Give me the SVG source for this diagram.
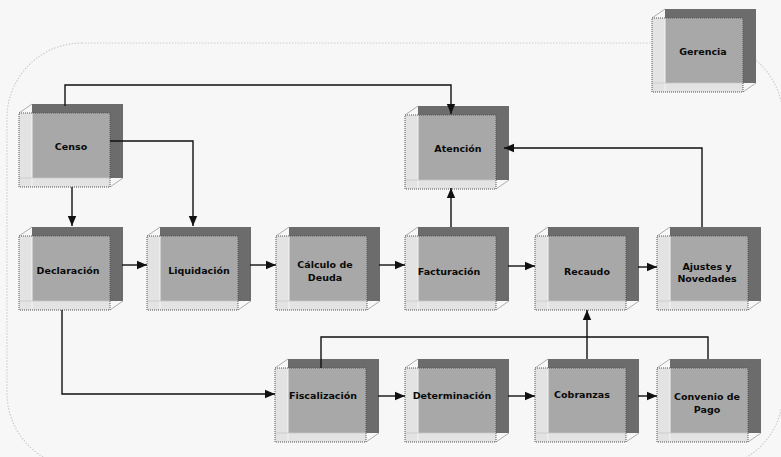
<svg xmlns="http://www.w3.org/2000/svg" xmlns:xlink="http://www.w3.org/1999/xlink" width="781" height="457" viewBox="0 0 781 457">
<style>
.lbl{font-family:"DejaVu Sans",Verdana,sans-serif;font-weight:bold;font-size:9.5px;fill:#0a0a0a;text-anchor:middle}
.edge{fill:none;stroke:#111;stroke-width:1.4}
</style>
<defs>
<marker id="arr" markerUnits="userSpaceOnUse" markerWidth="10" markerHeight="10" viewBox="0 0 10 10" refX="10" refY="5" orient="auto">
<path d="M0,0.8 L10,5 L0,9.2 Z" fill="#111"/>
</marker>
<g id="box">
<rect x="13" y="-9" width="91" height="74" fill="#6c6c6c"/>
<rect x="0" y="0" width="91" height="74" fill="#e3e3e3"/>
<rect x="13" y="0" width="78" height="65" fill="#a8a8a8"/>
<line x1="13" y1="0" x2="13" y2="74" stroke="#f4f4f4" stroke-width="1"/>
<line x1="0" y1="65" x2="91" y2="65" stroke="#c8c8c8" stroke-width="0.8"/>
<line x1="0" y1="0" x2="13" y2="-9" stroke="#999" stroke-width="0.8"/>
<line x1="91" y1="74" x2="104" y2="65" stroke="#999" stroke-width="0.8"/>
<rect x="0" y="0" width="91" height="74" fill="none" stroke="#555" stroke-width="1" stroke-dasharray="1,1"/>
</g>
</defs>
<rect width="781" height="457" fill="#f7f7f7"/>
<rect x="7" y="43" width="776" height="425" rx="75" ry="75" fill="none" stroke="#cdcdcd" stroke-width="1.2" stroke-dasharray="1.5,1.5"/>

<g id="gerencia"><use xlink:href="#box" x="652" y="18"/><text class="lbl" x="703" y="55">Gerencia</text></g>
<g id="censo"><use xlink:href="#box" x="19" y="113"/><text class="lbl" x="71" y="150">Censo</text></g>
<g id="atencion"><use xlink:href="#box" x="405" y="115"/><text class="lbl" x="458" y="152">Atención</text></g>
<g id="declaracion"><use xlink:href="#box" x="19" y="236"/><text class="lbl" x="68" y="274">Declaración</text></g>
<g id="liquidacion"><use xlink:href="#box" x="147" y="236"/><text class="lbl" x="199" y="274">Liquidación</text></g>
<g id="calculo"><use xlink:href="#box" x="276" y="236"/><text class="lbl" x="325" y="268">Cálculo de</text><text class="lbl" x="325" y="281">Deuda</text></g>
<g id="facturacion"><use xlink:href="#box" x="405" y="236"/><text class="lbl" x="449" y="275">Facturación</text></g>
<g id="recaudo"><use xlink:href="#box" x="535" y="236"/><text class="lbl" x="587" y="275">Recaudo</text></g>
<g id="ajustes"><use xlink:href="#box" x="657" y="236"/><text class="lbl" x="707" y="270">Ajustes y</text><text class="lbl" x="707" y="282">Novedades</text></g>
<g id="fiscalizacion"><use xlink:href="#box" x="275" y="368"/><text class="lbl" x="323" y="399">Fiscalización</text></g>
<g id="determinacion"><use xlink:href="#box" x="405" y="368"/><text class="lbl" x="452" y="399">Determinación</text></g>
<g id="cobranzas"><use xlink:href="#box" x="535" y="368"/><text class="lbl" x="582" y="398">Cobranzas</text></g>
<g id="convenio"><use xlink:href="#box" x="657" y="368"/><text class="lbl" x="707" y="400">Convenio de</text><text class="lbl" x="707" y="413">Pago</text></g>

<g id="connectors">
<path class="edge" d="M65,106 V85 H451 V114" marker-end="url(#arr)"/>
<path class="edge" d="M110,141 H193 V226" marker-end="url(#arr)"/>
<path class="edge" d="M72,187 V226" marker-end="url(#arr)"/>
<path class="edge" d="M122,265 H147" marker-end="url(#arr)"/>
<path class="edge" d="M250,265 H276" marker-end="url(#arr)"/>
<path class="edge" d="M379,265 H405" marker-end="url(#arr)"/>
<path class="edge" d="M508,266 H535" marker-end="url(#arr)"/>
<path class="edge" d="M638,267 H657" marker-end="url(#arr)"/>
<path class="edge" d="M451,227 V188" marker-end="url(#arr)"/>
<path class="edge" d="M702,227 V148 H504" marker-end="url(#arr)"/>
<path class="edge" d="M62,310 V394 H275" marker-end="url(#arr)"/>
<path class="edge" d="M378,396 H405" marker-end="url(#arr)"/>
<path class="edge" d="M508,396 H535" marker-end="url(#arr)"/>
<path class="edge" d="M638,396 H657" marker-end="url(#arr)"/>
<path class="edge" d="M321,368 V337 H708 V359"/>
<path class="edge" d="M587,359 V337"/>
<path class="edge" d="M587,337 V310" marker-end="url(#arr)"/>
</g>
</svg>
